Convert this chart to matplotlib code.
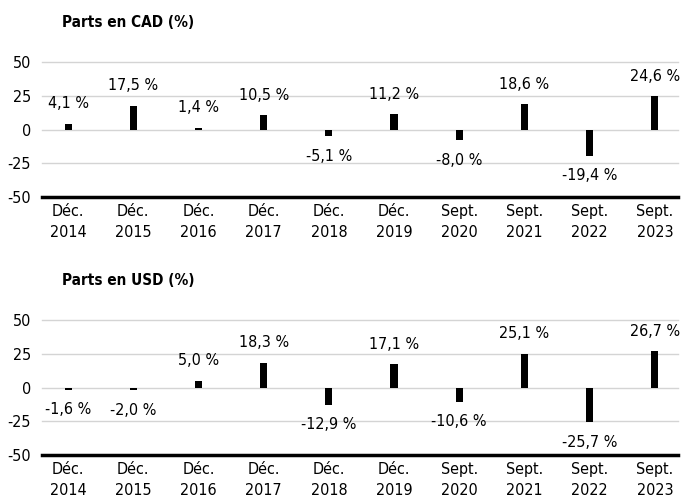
import numpy as np
import matplotlib
matplotlib.use('Agg')
import matplotlib.pyplot as plt

plt.rcParams['font.family'] = ['DejaVu Sans']
plt.rcParams['font.stretch'] = 'condensed'

periods = ['Déc.\n2014', 'Déc.\n2015', 'Déc.\n2016', 'Déc.\n2017', 'Déc.\n2018',
           'Déc.\n2019', 'Sept.\n2020', 'Sept.\n2021', 'Sept.\n2022', 'Sept.\n2023']
cad = [4.1, 17.5, 1.4, 10.5, -5.1, 11.2, -8.0, 18.6, -19.4, 24.6]
usd = [-1.6, -2.0, 5.0, 18.3, -12.9, 17.1, -10.6, 25.1, -25.7, 26.7]
titles = ['Parts en CAD (%)', 'Parts en USD (%)']
yticks = [-50, -25, 0, 25, 50]


def fmt(v):
    return '{:.1f} %'.format(v).replace('.', ',')


def draw(ax, vals, title):
    x = np.arange(len(vals))
    ax.bar(x, vals, 0.11, color='black', zorder=3)
    for xi, v in zip(x, vals):
        off = 9 if v >= 0 else -9
        ax.annotate(fmt(v), (xi, v), xytext=(0, off), textcoords='offset points',
                    ha='center', va='bottom' if v >= 0 else 'top', fontsize=11.5)
    ax.set_xlim(-0.4, 9.35)
    ax.set_ylim(-50, 50)
    ax.set_yticks(yticks)
    ax.set_yticklabels([str(t) for t in yticks], fontsize=11.5)
    ax.set_xticks(x)
    ax.set_xticklabels(periods, fontsize=11.5, linespacing=1.5)
    for t in yticks[1:]:
        ax.axhline(t, color='#d4d4d4', lw=1, zorder=1, clip_on=False)
    for s in ['top', 'right', 'left']:
        ax.spines[s].set_visible(False)
    ax.spines['bottom'].set_linewidth(2.5)
    ax.spines['bottom'].set_color('black')
    ax.tick_params(axis='both', length=0)
    ax.tick_params(axis='y', pad=8)
    ax.tick_params(axis='x', pad=5)
    ax.text(0.031, 1.296, title, transform=ax.transAxes, fontsize=11,
            fontweight='bold', ha='left', va='center')


fig = plt.figure(figsize=(6.82, 5.0), dpi=100)
ax1 = fig.add_axes([0.0616, 0.606, 0.932, 0.27])
ax2 = fig.add_axes([0.0616, 0.09, 0.932, 0.27])
draw(ax1, cad, titles[0])
draw(ax2, usd, titles[1])

fig.savefig('out.png', dpi=100)
